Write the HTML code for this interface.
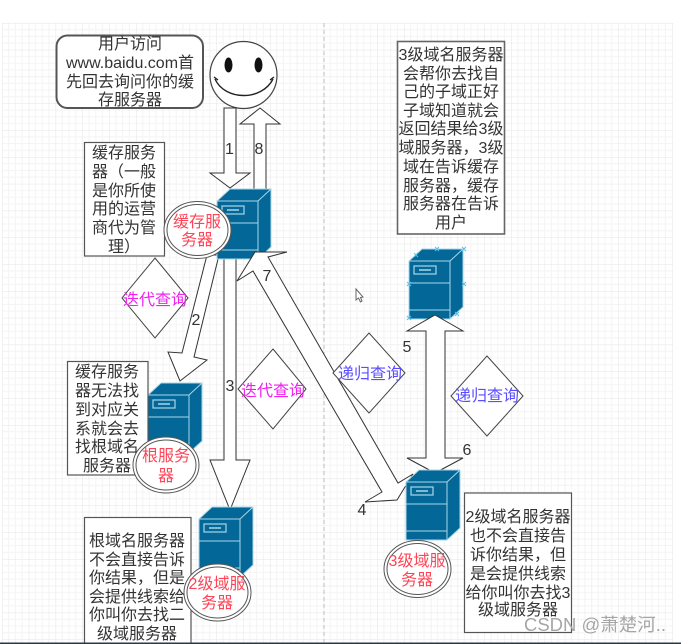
<!DOCTYPE html>
<html><head><meta charset="utf-8">
<style>
html,body{margin:0;padding:0;background:#fff;width:681px;height:644px;overflow:hidden}
svg{display:block;filter:blur(.3px)}
text{font-family:"Liberation Sans","Noto Sans CJK SC",sans-serif;font-size:16px;text-anchor:middle;fill:#333}
.r text,text.r{fill:#ff4455}
text.m{fill:#f020f0}
text.b{fill:#5a4cff}
</style></head><body>
<svg width="681" height="644" viewBox="0 0 681 644" xmlns="http://www.w3.org/2000/svg">
<defs>
<pattern id="g" x="2" y="23" width="26.8" height="26.8" patternUnits="userSpaceOnUse">
<path d="M6.7 0V26.8M13.4 0V26.8M20.1 0V26.8M0 6.7H26.8M0 13.4H26.8M0 20.1H26.8" stroke="#f4f4f4" stroke-width="1" fill="none"/>
<path d="M0 0V26.8M0 0H26.8" stroke="#e4e4e4" stroke-width="1" fill="none"/>
</pattern>
<g id="srv">
<path d="M0 12L13 0H54V58L41 70H0Z" fill="#036897"/>
<path d="M0 12L13 0H54V58L41 70H0ZM0 12H41V70M41 12L54 0M0 34H41M0 61H41" fill="none" stroke="#a8d6e8" stroke-width="1"/>
<rect x="5" y="17" width="22" height="8" fill="none" stroke="#a8d6e8" stroke-width="1.2"/>
<path d="M10 21H22" stroke="#a8d6e8" stroke-width="1.5"/>
</g>
</defs>
<rect x="2" y="23" width="671" height="620" fill="url(#g)"/>
<path d="M324 23V642" stroke="#bdbdbd" stroke-dasharray="4 3" fill="none"/>

<!-- rounded note -->
<rect x="56.500" y="35.500" width="146.500" height="72.500" rx="11" fill="#fff" stroke="#555" stroke-width="2"/>
<text x="130" y="49">用户访问</text>
<text x="130" y="68">www.baidu.com首</text>
<text x="130" y="87">先回去询问你的缓</text>
<text x="130" y="105">存服务器</text>

<!-- smiley -->
<circle cx="243.500" cy="75" r="33.500" fill="#fff" stroke="#444" stroke-width="1.200"/>
<ellipse cx="228.500" cy="65" rx="4" ry="7.500" fill="#111"/>
<ellipse cx="258.500" cy="65" rx="4" ry="7.500" fill="#111"/>
<path d="M215 79C225 101 262 101 273 79M214 77L218 80M270 80L274 77" fill="none" stroke="#222" stroke-width="1.400"/>

<!-- arrows 1, 8 -->
<path d="M224 108H236V173H250L230 188L210 173H224Z" fill="#fff" stroke="#333" stroke-width="1"/>
<path d="M254 189V124H240L260 108L280 124H266V189Z" fill="#fff" stroke="#333" stroke-width="1"/>

<!-- arrow 3 -->
<path d="M224 255H236V460H250L230 510L210 460H224Z" fill="#fff" stroke="#333" stroke-width="1"/>
<!-- arrow 2 -->
<path d="M207 255L182 353L168 352L180 381L207 360L194 357L219 255Z" fill="#fff" stroke="#333" stroke-width="1"/>

<!-- servers -->
<use href="#srv" x="217" y="189"/>
<use href="#srv" x="148" y="383"/>
<use href="#srv" x="199" y="507"/>
<use href="#srv" x="409" y="249"/>

<!-- arrow 4/7 -->
<path d="M255 252L287 252L268 257L398 483L413 474L397 500L365 502L382 492L253 271L237 281Z" fill="#fff" stroke="#333" stroke-width="1"/>
<!-- arrow 5/6 -->
<path d="M435 315L463 331H445V458H463L435 473L407 458H426V331H407Z" fill="#fff" stroke="#333" stroke-width="1"/>
<use href="#srv" x="406" y="470"/>

<!-- selection marks -->
<path d="M414 253l4 4m0-4l-4 4M435 247l4 4m0-4l-4 4M462 247l4 4m0-4l-4 4M462 282l4 4m0-4l-4 4M455 312l4 4m0-4l-4 4M407 282l4 4m0-4l-4 4M407 316l4 4m0-4l-4 4" stroke="#4fc3f0" stroke-width="1" fill="none"/>

<!-- cache note -->
<rect x="84.500" y="142.500" width="80" height="113.500" fill="#fff" stroke="#555" stroke-width="1.200"/>
<text x="124" y="158">缓存服务</text>
<text x="124" y="177">器（一般</text>
<text x="124" y="196">是你所使</text>
<text x="124" y="214">用的运营</text>
<text x="124" y="233">商代为管</text>
<text x="124" y="252">理）</text>

<!-- root note -->
<rect x="67.500" y="361.500" width="80.500" height="113.500" fill="#fff" stroke="#555" stroke-width="1.200"/>
<text x="107" y="377">缓存服务</text>
<text x="107" y="396">器无法找</text>
<text x="107" y="415">到对应关</text>
<text x="107" y="434">系就会去</text>
<text x="107" y="452">找根域名</text>
<text x="107" y="471">服务器</text>

<!-- tld note -->
<rect x="84.500" y="517.500" width="106.500" height="130" fill="#fff" stroke="#555" stroke-width="1.200"/>
<text x="137" y="546">根域名服务器</text>
<text x="137" y="565">不会直接告诉</text>
<text x="137" y="583">你结果，但是</text>
<text x="137" y="602">会提供线索给</text>
<text x="137" y="620">你叫你去找二</text>
<text x="137" y="639">级域服务器</text>

<!-- level3 note -->
<rect x="397.500" y="41.500" width="107" height="192.500" fill="#fff" stroke="#666" stroke-width="1.600"/>
<text x="451" y="60">3级域名服务器</text>
<text x="451" y="79">会帮你去找自</text>
<text x="451" y="97">己的子域正好</text>
<text x="451" y="116">子域知道就会</text>
<text x="451" y="134">返回结果给3级</text>
<text x="451" y="153">域服务器，3级</text>
<text x="451" y="172">域在告诉缓存</text>
<text x="451" y="191">服务器，缓存</text>
<text x="451" y="209">服务器在告诉</text>
<text x="451" y="228">用户</text>

<!-- level2 note -->
<rect x="464.500" y="493" width="107" height="139.500" fill="#fff" stroke="#555" stroke-width="1.200"/>
<text x="518" y="522">2级域名服务器</text>
<text x="518" y="541">也不会直接告</text>
<text x="518" y="560">诉你结果，但</text>
<text x="518" y="579">是会提供线索</text>
<text x="518" y="598">给你叫你去找3</text>
<text x="518" y="615">级域服务器</text>

<!-- double ellipses -->
<g fill="#fff" stroke="#555" stroke-width="1">
<ellipse cx="197.500" cy="230" rx="33.500" ry="28.500"/><ellipse cx="197.500" cy="230" rx="30.500" ry="25.500"/>
<ellipse cx="166" cy="465" rx="33" ry="28"/><ellipse cx="166" cy="465" rx="30" ry="25"/>
<ellipse cx="217.500" cy="592.500" rx="33.500" ry="28.500"/><ellipse cx="217.500" cy="592.500" rx="30.500" ry="25.500"/>
<ellipse cx="417.500" cy="569" rx="33.500" ry="28.500"/><ellipse cx="417.500" cy="569" rx="30.500" ry="25.500"/>
</g>
<text class="r" x="197" y="227">缓存服</text><text class="r" x="197" y="245">务器</text>
<text class="r" x="166" y="461">根服务</text><text class="r" x="166" y="481">器</text>
<text class="r" x="217" y="589">2级域服</text><text class="r" x="217" y="608">务器</text>
<text class="r" x="417" y="566">3级域服</text><text class="r" x="417" y="585">务器</text>

<!-- diamonds -->
<g fill="#fff" stroke="#444" stroke-width="1">
<path d="M155 258L188 298L155 338L122 298Z"/>
<path d="M273 349L306 389L273 429L238 389Z"/>
<path d="M369 333L405 373L369 413L333 373Z"/>
<path d="M487 356L523 396L487 436L451 396Z"/>
</g>
<text class="m" x="155" y="305">迭代查询</text>
<text class="m" x="273" y="396">迭代查询</text>
<text class="b" x="370" y="379">递归查询</text>
<text class="b" x="487" y="401">递归查询</text>

<!-- numbers -->
<text x="229.500" y="154">1</text>
<text x="259" y="154">8</text>
<text x="196" y="325">2</text>
<text x="230" y="391">3</text>
<text x="267" y="281">7</text>
<text x="362" y="515">4</text>
<text x="407" y="352">5</text>
<text x="467" y="455">6</text>

<!-- cursor -->
<path d="M356 289V300L358.500 298L360.500 302L362 301L360.500 297.500L363 297Z" fill="#fff" stroke="#666" stroke-width="1"/>

<!-- watermark -->
<text x="595" y="631" style="font-size:18px;fill:#a6a6a6" textLength="142" lengthAdjust="spacingAndGlyphs">CSDN @萧楚河..</text>

<rect x="0" y="642.500" width="681" height="2" fill="#2b3a42"/>
</svg>
</body></html>
